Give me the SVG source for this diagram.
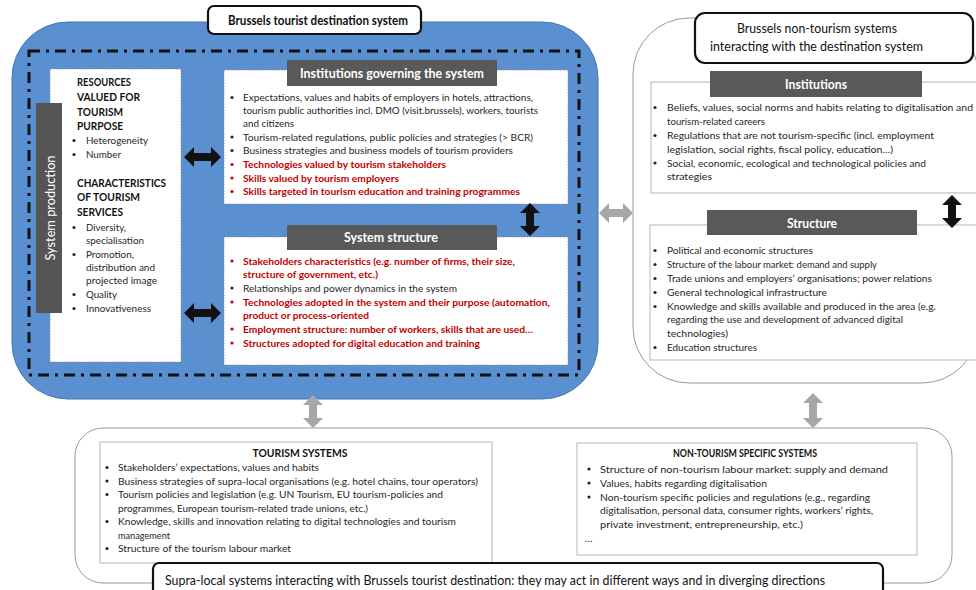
<svg xmlns="http://www.w3.org/2000/svg" width="976" height="590" viewBox="0 0 976 590">
<style>
text{font-family:Lato,"Liberation Sans",sans-serif;}
.b{font-size:10px;fill:#262626;}
.r{font-size:10px;fill:#c00000;font-weight:bold;}
.k{font-size:12px;fill:#111;font-weight:bold;}
.h{font-size:12.5px;fill:#fff;font-weight:bold;}
.t{font-size:12.5px;fill:#111;}
.tb{font-size:12.5px;fill:#111;font-weight:bold;}
.hd{fill:#595959;}
.dot{fill:#fff;stroke:#8a8a8a;stroke-width:0.8;stroke-dasharray:1.5 1.5;}
.gb{fill:#fff;stroke:#b5b5b5;stroke-width:1;}
.ttl{fill:#fff;stroke:#111;stroke-width:2.2;}
.bk{fill:#111;}
.gr{fill:#a8a6a8;}
.bl circle{fill:#262626;}
.bl circle.rd{fill:#c00000;}
</style>

<g id="destination-system">
  <rect x="12" y="22" width="586" height="377" rx="56" fill="#5a8fd0" stroke="#4677b5" stroke-width="1"/>
  <rect x="29" y="51" width="550" height="324" fill="none" stroke="#111" stroke-width="3" stroke-dasharray="11 6 3 6"/>
  <rect class="ttl" x="208" y="6" width="213" height="28" rx="6"/>
  <text class="tb" x="228" y="25" textLength="180" lengthAdjust="spacingAndGlyphs">Brussels tourist destination system</text>
</g>

<g id="resources">
  <rect class="dot" x="50" y="69" width="131" height="293"/>
  <text class="k" x="77" y="86" textLength="54" lengthAdjust="spacingAndGlyphs">RESOURCES</text>
  <text class="k" x="77" y="101" textLength="63" lengthAdjust="spacingAndGlyphs">VALUED FOR</text>
  <text class="k" x="77" y="116" textLength="46" lengthAdjust="spacingAndGlyphs">TOURISM</text>
  <text class="k" x="77" y="130" textLength="46" lengthAdjust="spacingAndGlyphs">PURPOSE</text>
  <text class="b" x="86" y="144" textLength="62" lengthAdjust="spacingAndGlyphs">Heterogeneity</text>
  <text class="b" x="86" y="158" textLength="35" lengthAdjust="spacingAndGlyphs">Number</text>
  <text class="k" x="77" y="187" textLength="89" lengthAdjust="spacingAndGlyphs">CHARACTERISTICS</text>
  <text class="k" x="77" y="201" textLength="63" lengthAdjust="spacingAndGlyphs">OF TOURISM</text>
  <text class="k" x="77" y="216" textLength="46" lengthAdjust="spacingAndGlyphs">SERVICES</text>
  <text class="b" x="86" y="231" textLength="40" lengthAdjust="spacingAndGlyphs">Diversity,</text>
  <text class="b" x="86" y="244" textLength="58" lengthAdjust="spacingAndGlyphs">specialisation</text>
  <text class="b" x="86" y="258" textLength="48" lengthAdjust="spacingAndGlyphs">Promotion,</text>
  <text class="b" x="86" y="271" textLength="69" lengthAdjust="spacingAndGlyphs">distribution and</text>
  <text class="b" x="86" y="284" textLength="71" lengthAdjust="spacingAndGlyphs">projected image</text>
  <text class="b" x="86" y="298" textLength="31" lengthAdjust="spacingAndGlyphs">Quality</text>
  <text class="b" x="86" y="312" textLength="65" lengthAdjust="spacingAndGlyphs">Innovativeness</text>
  <g class="bl">
    <circle cx="74" cy="140.5" r="1.6"/><circle cx="74" cy="154.5" r="1.6"/>
    <circle cx="74" cy="227.5" r="1.6"/><circle cx="74" cy="254.5" r="1.6"/>
    <circle cx="74" cy="294.5" r="1.6"/><circle cx="74" cy="308.5" r="1.6"/>
  </g>
</g>

<g id="system-production">
  <rect x="36" y="103" width="26" height="210" fill="#555"/>
  <text x="0" y="0" transform="translate(54.5,208) rotate(-90)" text-anchor="middle" style="font-size:12.5px;fill:#fff" textLength="105" lengthAdjust="spacingAndGlyphs">System production</text>
</g>

<g id="institutions-governing">
  <rect class="dot" x="224" y="70" width="344" height="134"/>
  <rect class="hd" x="287" y="60" width="210" height="26"/>
  <text class="h" x="392" y="78" text-anchor="middle" textLength="184" lengthAdjust="spacingAndGlyphs">Institutions governing the system</text>
  <text class="b" x="243" y="101" textLength="290" lengthAdjust="spacingAndGlyphs">Expectations, values and habits of employers in hotels, attractions,</text>
  <text class="b" x="243" y="114" textLength="295" lengthAdjust="spacingAndGlyphs">tourism public authorities incl. DMO (visit.brussels), workers, tourists</text>
  <text class="b" x="243" y="127" textLength="51" lengthAdjust="spacingAndGlyphs">and citizens</text>
  <text class="b" x="243" y="140.5" textLength="290" lengthAdjust="spacingAndGlyphs">Tourism-related regulations, public policies and strategies (&gt; BCR)</text>
  <text class="b" x="243" y="154" textLength="270" lengthAdjust="spacingAndGlyphs">Business strategies and business models of tourism providers</text>
  <text class="r" x="243" y="168" textLength="203" lengthAdjust="spacingAndGlyphs">Technologies valued by tourism stakeholders</text>
  <text class="r" x="243" y="181.5" textLength="156" lengthAdjust="spacingAndGlyphs">Skills valued by tourism employers</text>
  <text class="r" x="243" y="195" textLength="277" lengthAdjust="spacingAndGlyphs">Skills targeted in tourism education and training programmes</text>
  <g class="bl">
    <circle cx="232" cy="97.5" r="1.6"/><circle cx="232" cy="137" r="1.6"/><circle cx="232" cy="150.5" r="1.6"/>
    <circle class="rd" cx="232" cy="164.5" r="1.6"/><circle class="rd" cx="232" cy="178" r="1.6"/><circle class="rd" cx="232" cy="191.5" r="1.6"/>
  </g>
</g>

<g id="system-structure">
  <rect class="dot" x="224" y="237" width="344" height="128"/>
  <rect class="hd" x="287" y="225" width="210" height="25"/>
  <text class="h" x="391" y="242" text-anchor="middle" textLength="94" lengthAdjust="spacingAndGlyphs">System structure</text>
  <text class="r" x="243" y="264.5" textLength="272" lengthAdjust="spacingAndGlyphs">Stakeholders characteristics (e.g. number of firms, their size,</text>
  <text class="r" x="243" y="277.5" textLength="135" lengthAdjust="spacingAndGlyphs">structure of government, etc.)</text>
  <text class="b" x="243" y="291.5" textLength="214" lengthAdjust="spacingAndGlyphs">Relationships and power dynamics in the system</text>
  <text class="r" x="243" y="305.5" textLength="307" lengthAdjust="spacingAndGlyphs">Technologies adopted in the system and their purpose (automation,</text>
  <text class="r" x="243" y="319" textLength="126" lengthAdjust="spacingAndGlyphs">product or process-oriented</text>
  <text class="r" x="243" y="332.5" textLength="290" lengthAdjust="spacingAndGlyphs">Employment structure: number of workers, skills that are used…</text>
  <text class="r" x="243" y="346.5" textLength="237" lengthAdjust="spacingAndGlyphs">Structures adopted for digital education and training</text>
  <g class="bl">
    <circle class="rd" cx="232" cy="261" r="1.6"/><circle cx="232" cy="288" r="1.6"/>
    <circle class="rd" cx="232" cy="302" r="1.6"/><circle class="rd" cx="232" cy="329" r="1.6"/><circle class="rd" cx="232" cy="343" r="1.6"/>
  </g>
</g>

<g id="non-tourism-local">
  <rect x="633" y="18" width="345" height="365" rx="56" fill="#fff" stroke="#9a9a9a" stroke-width="1"/>
  <rect class="ttl" x="695" y="13" width="278" height="50" rx="10"/>
  <text class="t" x="817" y="33" text-anchor="middle" textLength="160" lengthAdjust="spacingAndGlyphs">Brussels non-tourism systems</text>
  <text class="t" x="816.5" y="51" text-anchor="middle" textLength="213" lengthAdjust="spacingAndGlyphs">interacting with the destination system</text>
</g>

<g id="local-institutions">
  <rect class="gb" x="651" y="82" width="330" height="111"/>
  <rect class="hd" x="710" y="71" width="212" height="26"/>
  <text class="h" x="816" y="88.5" text-anchor="middle" textLength="62" lengthAdjust="spacingAndGlyphs">Institutions</text>
  <text class="b" x="667" y="111" textLength="306" lengthAdjust="spacingAndGlyphs">Beliefs, values, social norms and habits relating to digitalisation and</text>
  <text class="b" x="667" y="124.5" textLength="98" lengthAdjust="spacingAndGlyphs">tourism-related careers</text>
  <text class="b" x="667" y="139" textLength="267" lengthAdjust="spacingAndGlyphs">Regulations that are not tourism-specific (incl. employment</text>
  <text class="b" x="667" y="152.5" textLength="226" lengthAdjust="spacingAndGlyphs">legislation, social rights, fiscal policy, education…)</text>
  <text class="b" x="667" y="166.5" textLength="259" lengthAdjust="spacingAndGlyphs">Social, economic, ecological and technological policies and</text>
  <text class="b" x="667" y="180" textLength="45" lengthAdjust="spacingAndGlyphs">strategies</text>
  <g class="bl">
    <circle cx="655" cy="107.5" r="1.6"/><circle cx="655" cy="135.5" r="1.6"/><circle cx="655" cy="163" r="1.6"/>
  </g>
</g>

<g id="local-structure">
  <rect class="gb" x="650" y="225" width="330" height="135"/>
  <rect class="hd" x="707" y="210" width="210" height="25"/>
  <text class="h" x="812" y="228" text-anchor="middle" textLength="50" lengthAdjust="spacingAndGlyphs">Structure</text>
  <text class="b" x="667" y="254" textLength="146" lengthAdjust="spacingAndGlyphs">Political and economic structures</text>
  <text class="b" x="667" y="268" textLength="210" lengthAdjust="spacingAndGlyphs">Structure of the labour market: demand and supply</text>
  <text class="b" x="667" y="282" textLength="265" lengthAdjust="spacingAndGlyphs">Trade unions and employers’ organisations; power relations</text>
  <text class="b" x="667" y="296" textLength="160" lengthAdjust="spacingAndGlyphs">General technological infrastructure</text>
  <text class="b" x="667" y="310" textLength="269" lengthAdjust="spacingAndGlyphs">Knowledge and skills available and produced in the area (e.g.</text>
  <text class="b" x="667" y="323" textLength="236" lengthAdjust="spacingAndGlyphs">regarding the use and development of advanced digital</text>
  <text class="b" x="667" y="336.5" textLength="61" lengthAdjust="spacingAndGlyphs">technologies)</text>
  <text class="b" x="667" y="351" textLength="90" lengthAdjust="spacingAndGlyphs">Education structures</text>
  <g class="bl">
    <circle cx="655" cy="250.5" r="1.6"/><circle cx="655" cy="264.5" r="1.6"/><circle cx="655" cy="278.5" r="1.6"/>
    <circle cx="655" cy="292.5" r="1.6"/><circle cx="655" cy="306.5" r="1.6"/><circle cx="655" cy="347.5" r="1.6"/>
  </g>
</g>

<g id="supra-local">
  <rect x="75" y="428" width="877" height="155" rx="28" fill="#fff" stroke="#9a9a9a" stroke-width="1"/>
</g>

<g id="tourism-systems">
  <rect class="gb" x="100" y="442" width="392" height="121"/>
  <text class="tb" x="300" y="457" text-anchor="middle" style="font-size:11px" textLength="95" lengthAdjust="spacingAndGlyphs">TOURISM SYSTEMS</text>
  <text class="b" x="118" y="471" textLength="201" lengthAdjust="spacingAndGlyphs">Stakeholders’ expectations, values and habits</text>
  <text class="b" x="118" y="484.5" textLength="360" lengthAdjust="spacingAndGlyphs">Business strategies of supra-local organisations (e.g. hotel chains, tour operators)</text>
  <text class="b" x="118" y="498" textLength="325" lengthAdjust="spacingAndGlyphs">Tourism policies and legislation (e.g. UN Tourism, EU tourism-policies and</text>
  <text class="b" x="118" y="511.5" textLength="250" lengthAdjust="spacingAndGlyphs">programmes, European tourism-related trade unions, etc.)</text>
  <text class="b" x="118" y="525" textLength="338" lengthAdjust="spacingAndGlyphs">Knowledge, skills and innovation relating to digital technologies and tourism</text>
  <text class="b" x="118" y="538.5" textLength="52" lengthAdjust="spacingAndGlyphs">management</text>
  <text class="b" x="118" y="552" textLength="173" lengthAdjust="spacingAndGlyphs">Structure of the tourism labour market</text>
  <g class="bl">
    <circle cx="107" cy="467.5" r="1.6"/><circle cx="107" cy="481" r="1.6"/><circle cx="107" cy="494.5" r="1.6"/>
    <circle cx="107" cy="521.5" r="1.6"/><circle cx="107" cy="548.5" r="1.6"/>
  </g>
</g>

<g id="non-tourism-specific">
  <rect class="gb" x="577" y="443" width="340" height="112"/>
  <text class="tb" x="745" y="457" text-anchor="middle" style="font-size:11px" textLength="144" lengthAdjust="spacingAndGlyphs">NON-TOURISM SPECIFIC SYSTEMS</text>
  <text class="b" x="600" y="472.5" textLength="288" lengthAdjust="spacingAndGlyphs">Structure of non-tourism labour market: supply and demand</text>
  <text class="b" x="600" y="486.5" textLength="167" lengthAdjust="spacingAndGlyphs">Values, habits regarding digitalisation</text>
  <text class="b" x="600" y="500.5" textLength="270" lengthAdjust="spacingAndGlyphs">Non-tourism specific policies and regulations (e.g., regarding</text>
  <text class="b" x="600" y="514" textLength="273" lengthAdjust="spacingAndGlyphs">digitalisation, personal data, consumer rights, workers’ rights,</text>
  <text class="b" x="600" y="527.5" textLength="203" lengthAdjust="spacingAndGlyphs">private investment, entrepreneurship, etc.)</text>
  <text class="b" x="585" y="542">…</text>
  <g class="bl">
    <circle cx="589" cy="469" r="1.6"/><circle cx="589" cy="483" r="1.6"/><circle cx="589" cy="497" r="1.6"/>
  </g>
</g>

<g id="supra-local-title">
  <rect class="ttl" x="153" y="563" width="730" height="34" rx="6"/>
  <text class="t" x="165" y="585" textLength="660" lengthAdjust="spacingAndGlyphs">Supra-local systems interacting with Brussels tourist destination: they may act in different ways and in diverging directions</text>
</g>

<g id="connectors">
  <polygon class="bk" points="184,157 194,147 194,153 211,153 211,147 221,157 211,167 211,161 194,161 194,167"/>
  <polygon class="bk" points="184,313 194,303 194,309 211,309 211,303 221,313 211,323 211,317 194,317 194,323"/>
  <polygon class="bk" points="530,203 540,213 534,213 534,226 540,226 530,236 520,226 526,226 526,213 520,213"/>
  <polygon class="bk" points="952,195 962,205 956,205 956,218 962,218 952,228 942,218 948,218 948,205 942,205"/>
  <polygon class="gr" points="599,213 609,203 609,209 623,209 623,203 633,213 623,223 623,217 609,217 609,223"/>
  <polygon class="gr" points="313,395 323,405 317,405 317,418 323,418 313,428 303,418 309,418 309,405 303,405"/>
  <polygon class="gr" points="813,393 823,403 817,403 817,418 823,418 813,428 803,418 809,418 809,403 803,403"/>
</g>
</svg>
